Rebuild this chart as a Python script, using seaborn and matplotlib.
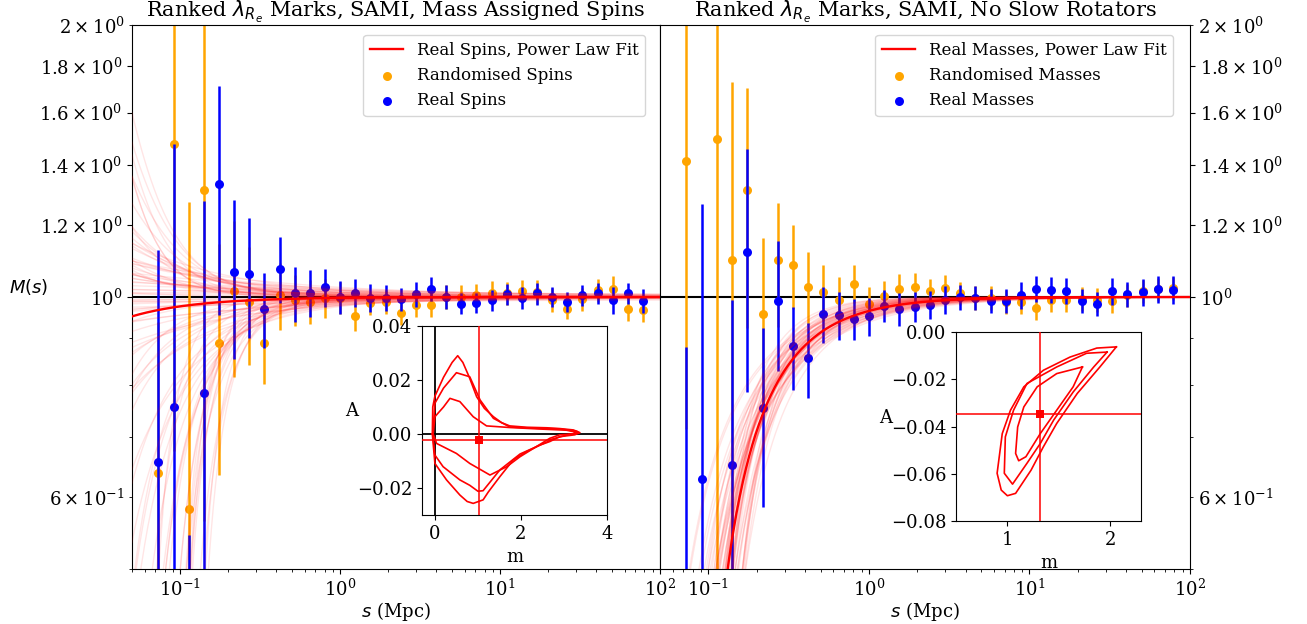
import numpy as np
import pandas as pd
import matplotlib
matplotlib.use("Agg")
import matplotlib.pyplot as plt
import seaborn as sns

plt.rcParams['font.family'] = ['DejaVu Serif']
plt.rcParams['mathtext.fontset'] = 'dejavusans'

# ---------------- data ----------------
s_bins = [0.0731, 0.0909, 0.113, 0.1406, 0.175, 0.2175, 0.2704, 0.3363, 0.418, 0.52,
          0.647, 0.805, 1.0, 1.245, 1.548, 1.925, 2.394, 2.977, 3.70, 4.60, 5.73,
          7.12, 8.85, 11.0, 13.7, 17.0, 21.2, 26.3, 32.7, 40.7, 50.7, 63.0, 78.4]

# Left panel: Mass Assigned Spins
spin_rand_M = [0.639, 1.475, 0.583, 1.315, 0.890, 1.015, 0.988, 0.889, 1.005, 0.993,
               0.988, 0.998, 0.998, 0.952, 0.984, 0.988, 0.960, 0.980, 0.980, 1.000,
               1.000, 1.005, 1.011, 1.009, 1.015, 1.013, 0.993, 0.970, 0.994, 1.018,
               1.020, 0.970, 0.968]
spin_rand_err = [0.30, 0.80, 0.69, 0.75, 0.254, 0.20, 0.148, 0.087, 0.085, 0.065,
                 0.055, 0.050, 0.040, 0.036, 0.030, 0.030, 0.030, 0.030, 0.030, 0.030,
                 0.030, 0.030, 0.030, 0.030, 0.030, 0.030, 0.030, 0.025, 0.030, 0.030,
                 0.035, 0.030, 0.030]
spin_real_M = [0.657, 0.755, 0.300, 0.782, 1.333, 1.066, 1.061, 0.971, 1.075, 1.009,
               1.011, 1.025, 1.000, 1.011, 0.998, 0.998, 0.994, 1.007, 1.020, 1.000,
               0.983, 0.985, 0.992, 1.007, 0.998, 1.009, 1.000, 0.988, 1.005, 1.009,
               0.992, 1.009, 0.991]
spin_real_err = [0.47, 0.72, 0.245, 0.495, 0.378, 0.213, 0.161, 0.092, 0.091, 0.070,
                 0.060, 0.050, 0.042, 0.037, 0.035, 0.033, 0.030, 0.032, 0.031, 0.030,
                 0.026, 0.026, 0.026, 0.028, 0.028, 0.028, 0.025, 0.025, 0.027, 0.027,
                 0.034, 0.027, 0.030]
spin_fit_m, spin_fit_A = 1.03, -0.0022
spin_samp_m = [0.05, 0.10, 0.15, 0.20, 0.25, 0.30, 0.35, 0.40, 0.45, 0.50, 0.50, 0.55,
               0.60, 0.60, 0.65, 0.70, 0.75, 0.80, 0.85, 0.90, 0.90, 1.00, 1.00, 1.10,
               1.15, 1.20, 1.25, 1.30, 1.40, 1.45, 1.60, 1.70, 1.80, 2.00, 2.20, 2.50,
               0.05, 0.10, 0.15, 0.20, 0.30, 0.35, 0.40, 0.45, 0.50, 0.55, 0.60, 0.65,
               0.70, 0.75, 0.80, 0.85, 0.90, 0.95, 1.00, 1.00, 1.05, 1.10, 1.15, 1.20,
               1.25, 1.30, 1.35, 1.40, 1.50, 1.50, 1.60, 1.70, 1.80, 1.90, 2.00, 2.10,
               2.20, 2.20, 2.30, 2.40, 2.50, 2.60, 2.70, 2.80, 2.90, 3.00, 3.20,
               1.00, 0.50, 2.50, 3.00, 1.50]
spin_samp_A = [0.010, 0.006, 0.012, 0.016, 0.018, 0.008, 0.022, 0.012, 0.025, 0.013,
               0.020, 0.017, 0.016, 0.008, 0.007, 0.018, 0.011, 0.012, 0.006, 0.010,
               0.004, 0.007, 0.003, 0.006, 0.002, 0.005, 0.002, 0.004, 0.0015, 0.0035,
               0.003, 0.0012, 0.0022, 0.0015, 0.0006, 0.0002,
               -0.010, -0.005, -0.008, -0.014, -0.012, -0.006, -0.018, -0.016, -0.008,
               -0.021, -0.020, -0.012, -0.004, -0.022, -0.012, -0.017, -0.024, -0.008,
               -0.010, -0.003, -0.020, -0.014, -0.008, -0.016, -0.005, -0.011, -0.013,
               -0.008, -0.002, -0.011, -0.009, -0.007, -0.006, -0.0075, -0.005, -0.004,
               -0.006, -0.0015, -0.0035, -0.0045, -0.002, -0.002, -0.003, -0.001,
               -0.001, -0.0015, -0.0005,
               0.0005, -0.002, 0.0002, -0.0002, 0.0008]

# Right panel: No Slow Rotators
mass_rand_M = [1.415, 0.35, 1.494, 1.098, 1.315, 0.958, 1.098, 1.086, 1.026, 1.012,
               0.9925, 1.035, 0.983, 1.003, 1.020, 1.025, 1.016, 1.022, 1.009, 0.998,
               0.998, 0.988, 0.987, 0.972, 0.9925, 0.9925, 0.995, 0.9925, 0.990, 1.005,
               1.015, 1.020, 1.022]
mass_rand_err = [0.70, 0.10, 1.10, 0.633, 0.39, 0.204, 0.172, 0.116, 0.095, 0.072,
                 0.059, 0.051, 0.043, 0.038, 0.041, 0.039, 0.032, 0.036, 0.030, 0.030,
                 0.030, 0.030, 0.030, 0.030, 0.030, 0.030, 0.030, 0.030, 0.030, 0.030,
                 0.030, 0.030, 0.030]
mass_real_M = [0.300, 0.629, 0.350, 0.652, 1.121, 0.754, 0.990, 0.882, 0.855, 0.958,
               0.955, 0.946, 0.952, 0.978, 0.969, 0.976, 0.980, 0.9925, 1.000, 0.998,
               0.990, 0.990, 1.005, 1.021, 1.018, 1.016, 0.990, 0.983, 1.015, 1.0076,
               1.0125, 1.0196, 1.018]
mass_real_err = [0.58, 0.637, 0.10, 0.34, 0.336, 0.169, 0.162, 0.094, 0.082, 0.068,
                 0.059, 0.049, 0.046, 0.040, 0.040, 0.037, 0.035, 0.035, 0.032, 0.030,
                 0.030, 0.030, 0.035, 0.034, 0.034, 0.034, 0.030, 0.030, 0.034, 0.032,
                 0.035, 0.035, 0.036]
mass_fit_m, mass_fit_A = 1.316, -0.0348
mass_samp_m = [0.95, 0.97, 1.00, 1.00, 1.02, 1.03, 1.05, 1.05, 1.08, 1.08, 1.10, 1.10,
               1.12, 1.12, 1.15, 1.15, 1.18, 1.18, 1.20, 1.20, 1.22, 1.22, 1.25, 1.25,
               1.25, 1.27, 1.28, 1.30, 1.30, 1.32, 1.32, 1.34, 1.35, 1.36, 1.38, 1.38,
               1.40, 1.40, 1.42, 1.45, 1.45, 1.45, 1.48, 1.50, 1.50, 1.53, 1.55, 1.56,
               1.60, 1.60, 1.63, 1.66, 1.70, 1.70, 1.74, 1.78, 1.80, 1.82, 1.88, 1.90,
               1.95, 2.00]
mass_samp_A = [-0.062, -0.055, -0.058, -0.050, -0.045, -0.052, -0.055, -0.040, -0.048,
               -0.036, -0.045, -0.030, -0.050, -0.028, -0.042, -0.055, -0.040, -0.032,
               -0.044, -0.036, -0.037, -0.050, -0.039, -0.030, -0.055, -0.035, -0.045,
               -0.033, -0.025, -0.036, -0.040, -0.031, -0.025, -0.034, -0.029, -0.038,
               -0.032, -0.024, -0.027, -0.029, -0.036, -0.020, -0.025, -0.027, -0.035,
               -0.022, -0.030, -0.024, -0.020, -0.028, -0.022, -0.018, -0.016, -0.023,
               -0.017, -0.013, -0.020, -0.014, -0.011, -0.016, -0.009, -0.010]

# Inset contours (m, A)
spin_c1_m = [-0.06, -0.05, 0.00, 0.20, 0.40, 0.53, 0.65, 0.80, 0.97, 1.15, 1.36, 1.55,
             1.74, 2.13, 2.60, 2.91, 3.22, 3.37, 3.25, 2.90, 2.67, 2.44, 2.29, 2.13,
             1.82, 1.51, 1.24, 1.12, 0.89, 0.75, 0.58, 0.27, 0.00, -0.06]
spin_c1_A = [0.000, 0.010, 0.0140, 0.0210, 0.0265, 0.0290, 0.0265, 0.0210, 0.0138,
             0.0095, 0.0064, 0.0042, 0.0030, 0.0025, 0.0023, 0.0020, 0.0015, 0.0005,
             -0.0003, -0.0010, -0.0028, -0.0041, -0.0053, -0.0065, -0.0096, -0.0158,
             -0.0215, -0.0244, -0.0257, -0.0250, -0.0226, -0.0170, -0.0109, 0.000]
spin_c2_m = [-0.05, 0.00, 0.20, 0.50, 0.81, 1.05, 1.36, 1.74, 2.40, 2.91, 3.30, 3.35,
             3.10, 2.70, 2.60, 1.98, 1.51, 1.12, 1.00, 0.81, 0.58, 0.19, 0.00, -0.05]
spin_c2_A = [0.000, 0.0114, 0.0170, 0.0227, 0.0212, 0.0126, 0.0058, 0.0026, 0.0021,
             0.0019, 0.0010, 0.0004, -0.0002, -0.0020, -0.0030, -0.0074, -0.0133,
             -0.0210, -0.0212, -0.0190, -0.0170, -0.0121, -0.0078, 0.000]
spin_c3_m = [-0.04, 0.00, 0.20, 0.35, 0.58, 0.89, 1.20, 1.74, 2.50, 3.06, 3.30, 3.20,
             2.90, 2.67, 1.98, 1.67, 1.28, 0.81, 0.50, 0.04, -0.04]
spin_c3_A = [0.000, 0.0064, 0.0100, 0.0132, 0.0120, 0.0064, 0.0030, 0.0024, 0.0018,
             0.0014, 0.0006, 0.0000, -0.0003, -0.0016, -0.0084, -0.0121, -0.0152,
             -0.0109, -0.0072, -0.0035, 0.000]

mass_c1_m = [2.06, 1.87, 1.61, 1.35, 1.16, 1.03, 0.95, 0.90, 0.94, 1.00, 1.08, 1.23,
             1.35, 1.48, 1.68, 1.90, 2.06]
mass_c1_A = [-0.0063, -0.0068, -0.0106, -0.0162, -0.0232, -0.0331, -0.0430, -0.0598,
             -0.0669, -0.0693, -0.0683, -0.0585, -0.0486, -0.0387, -0.0260, -0.0148,
             -0.0063]
mass_c2_m = [1.97, 1.77, 1.48, 1.19, 1.06, 0.98, 0.97, 1.05, 1.19, 1.32, 1.45, 1.64,
             1.84, 1.97]
mass_c2_A = [-0.0085, -0.0090, -0.0148, -0.0218, -0.0331, -0.0444, -0.0598, -0.0644,
             -0.0556, -0.0472, -0.0373, -0.0254, -0.0148, -0.0085]
mass_c3_m = [1.73, 1.48, 1.29, 1.16, 1.10, 1.08, 1.11, 1.18, 1.32, 1.48, 1.64, 1.73]
mass_c3_A = [-0.0148, -0.0176, -0.0232, -0.0317, -0.0402, -0.0514, -0.0545, -0.0528,
             -0.0430, -0.0331, -0.0232, -0.0148]

# ---------------- figure ----------------
W, H = 1307, 624
fig = plt.figure(figsize=(W / 100, H / 100), dpi=100)


def px_axes(l, t, r, b):
    return [l / W, 1 - b / H, (r - l) / W, (b - t) / H]


s_grid = np.logspace(np.log10(0.05), 2, 500)


def model(m, A):
    return 1 + A * s_grid ** (-m)


def draw_panel(ax, rand_M, rand_err, real_M, real_err, fit_m, fit_A, samp_m, samp_A,
               labels, title, alpha):
    ax.axhline(1.0, color='black', lw=1.5, zorder=1)
    ax.errorbar(s_bins, rand_M, yerr=rand_err, fmt='none', ecolor='orange',
                elinewidth=1.8, zorder=2)
    sns.scatterplot(x=s_bins, y=rand_M, color='orange', s=42, linewidth=0, ax=ax,
                    zorder=2, label=labels[1])
    ax.errorbar(s_bins, real_M, yerr=real_err, fmt='none', ecolor='blue',
                elinewidth=1.8, zorder=3)
    sns.scatterplot(x=s_bins, y=real_M, color='blue', s=42, linewidth=0, ax=ax,
                    zorder=3, label=labels[2])
    frames = []
    for k, (mm, aa) in enumerate(zip(samp_m, samp_A)):
        frames.append(pd.DataFrame({'s': s_grid, 'M': np.clip(model(mm, aa), 0.05, 50),
                                    'k': k}))
    df = pd.concat(frames)
    sns.lineplot(data=df, x='s', y='M', units='k', estimator=None, color='red',
                 alpha=alpha, lw=1, ax=ax, legend=False, zorder=4, sort=False)
    sns.lineplot(x=s_grid, y=np.clip(model(fit_m, fit_A), 0.05, 50), color='red',
                 lw=1.7, ax=ax, zorder=5, label=labels[0], sort=False)
    ax.set_xscale('log')
    ax.set_yscale('log')
    ax.set_xlim(0.05, 100)
    ax.set_ylim(0.5, 2.0)
    ax.set_yticks([1.0, 1.2, 1.4, 1.6, 1.8])
    ax.tick_params(labelsize=13, which='both')
    ax.set_xlabel('$s$ (Mpc)', fontsize=13, labelpad=0)
    ax.set_ylabel('')
    ax.set_title(title, fontsize=15, pad=4)
    h, l = ax.get_legend_handles_labels()
    order = [l.index(labels[0]), l.index(labels[1]), l.index(labels[2])]
    return [h[i] for i in order], [l[i] for i in order]


TOP, BOT = 25, 569
ax1 = fig.add_axes(px_axes(132, TOP, 660, BOT))
ax2 = fig.add_axes(px_axes(660, TOP, 1190, BOT))

h1, l1 = draw_panel(ax1, spin_rand_M, spin_rand_err, spin_real_M, spin_real_err,
                    spin_fit_m, spin_fit_A, spin_samp_m, spin_samp_A,
                    ['Real Spins, Power Law Fit', 'Randomised Spins', 'Real Spins'],
                    r'Ranked $\lambda_{R_e}$ Marks, SAMI, Mass Assigned Spins', 0.1)
ax1.legend(h1, l1, loc='upper right', fontsize=12, borderaxespad=0,
           bbox_to_anchor=((645 - 132) / 528, (BOT - 35) / (BOT - TOP)))
ax1.set_ylabel('$M(s)$', rotation=0, fontsize=13)
ax1.yaxis.set_label_coords(-0.195, 0.5)

h2, l2 = draw_panel(ax2, mass_rand_M, mass_rand_err, mass_real_M, mass_real_err,
                    mass_fit_m, mass_fit_A, mass_samp_m, mass_samp_A,
                    ['Real Masses, Power Law Fit', 'Randomised Masses', 'Real Masses'],
                    r'Ranked $\lambda_{R_e}$ Marks, SAMI, No Slow Rotators', 0.1)
ax2.legend(h2, l2, loc='upper right', fontsize=12, borderaxespad=0,
           bbox_to_anchor=((1173 - 660) / 530, (BOT - 35) / (BOT - TOP)))
ax2.yaxis.tick_right()


def draw_inset(rect, contours, fit_m, fit_A, xlim, ylim, xticks, yticks):
    axi = fig.add_axes(px_axes(*rect))
    axi.axvline(0, color='black', lw=1.3, zorder=1)
    axi.axhline(0, color='black', lw=1.3, zorder=1)
    for cm, ca in contours:
        sns.lineplot(x=cm, y=ca, sort=False, estimator=None, color='red', lw=1.2,
                     ax=axi, zorder=2)
    axi.axvline(fit_m, color='red', lw=1.1, zorder=3)
    axi.axhline(fit_A, color='red', lw=1.1, zorder=3)
    sns.scatterplot(x=[fit_m], y=[fit_A], marker='s', color='red', s=40, linewidth=0,
                    ax=axi, zorder=4)
    axi.set_xlim(*xlim)
    axi.set_ylim(*ylim)
    axi.set_xticks(xticks)
    axi.set_yticks(yticks)
    axi.tick_params(labelsize=13)
    axi.set_xlabel('m', fontsize=13)
    axi.set_ylabel('A', rotation=0, fontsize=13)
    axi.yaxis.set_label_coords(-0.38, 0.5)
    return axi


draw_inset((422, 326, 607, 515),
           [(spin_c1_m, spin_c1_A), (spin_c2_m, spin_c2_A), (spin_c3_m, spin_c3_A)],
           spin_fit_m, spin_fit_A, (-0.3, 4.0), (-0.03, 0.04), [0, 2, 4],
           [-0.02, 0.0, 0.02, 0.04])
draw_inset((956, 332, 1141, 521),
           [(mass_c1_m, mass_c1_A), (mass_c2_m, mass_c2_A), (mass_c3_m, mass_c3_A)],
           mass_fit_m, mass_fit_A, (0.5, 2.3), (-0.08, 0.0), [1, 2],
           [-0.08, -0.06, -0.04, -0.02, 0.0])

fig.savefig('out.png', dpi=100)
